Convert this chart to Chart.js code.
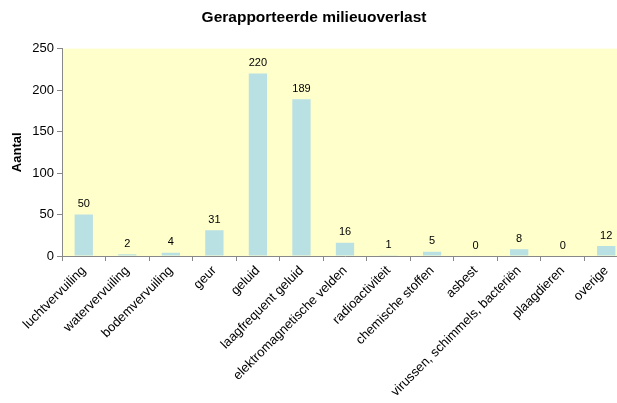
<!DOCTYPE html>
<html>
<head>
<meta charset="utf-8">
<script src="https://cdn.jsdelivr.net/npm/chart.js@4/dist/chart.umd.min.js"></script>
<style>
    html, body { margin: 0; padding: 0; background: #fff; overflow: hidden; }
    #wrap { width: 617px; height: 403px; overflow: hidden; }
</style>
</head>
<body>
<div id="wrap"><canvas id="chart" width="630" height="403" style="width:630px;height:403px"></canvas></div>
<script>
"use strict";

const categories = [
    'luchtvervuiling', 'watervervuiling', 'bodemvervuiling', 'geur', 'geluid',
    'laagfrequent geluid', 'elektromagnetische velden', 'radioactiviteit',
    'chemische stoffen', 'asbest', 'virussen, schimmels, bacteriën',
    'plaagdieren', 'overige'
];
const aantal = [50, 2, 4, 31, 220, 189, 16, 1, 5, 0, 8, 0, 12];
const yTicks = [0, 50, 100, 150, 200, 250];

const FONT = "'Liberation Sans', Arial, sans-serif";

// yellow plot background
const plotBg = {
    id: 'plotBg',
    beforeDraw(chart) {
        const {ctx, chartArea: a} = chart;
        ctx.save();
        ctx.fillStyle = '#FFFFCC';
        ctx.fillRect(a.left, a.top, a.right - a.left, a.bottom - a.top);
        ctx.restore();
    }
};

// value labels above each bar
const valueLabels = {
    id: 'valueLabels',
    afterDatasetsDraw(chart) {
        const ctx = chart.ctx;
        const meta = chart.getDatasetMeta(0);
        ctx.save();
        ctx.font = '11px ' + FONT;
        ctx.fillStyle = '#000';
        ctx.textAlign = 'center';
        ctx.textBaseline = 'bottom';
        meta.data.forEach((bar, i) => {
            ctx.fillText(String(aantal[i]), bar.x, bar.y - 5);
        });
        ctx.restore();
    }
};

new Chart(document.getElementById('chart'), {
    type: 'bar',
    data: {
        labels: categories,
        datasets: [{
            data: aantal,
            backgroundColor: '#B9E0E3',
            borderWidth: 0,
            categoryPercentage: 1,
            barPercentage: 0.42
        }]
    },
    options: {
        responsive: false,
        animation: false,
        layout: {padding: {top: 0, right: 2, left: 0, bottom: 0}},
        plugins: {
            legend: {display: false},
            tooltip: {enabled: false},
            title: {
                display: true,
                text: 'Gerapporteerde milieuoverlast',
                color: '#000',
                font: {family: FONT, size: 15.5, weight: 'bold'},
                padding: {top: 8, bottom: 22}
            }
        },
        scales: {
            x: {
                grid: {
                    display: true,
                    drawOnChartArea: false,
                    drawTicks: true,
                    tickLength: 5,
                    color: '#888',
                    offset: true
                },
                border: {display: true, color: '#888', width: 1},
                ticks: {
                    color: '#000',
                    font: {family: FONT, size: 13},
                    minRotation: 45,
                    maxRotation: 45,
                    autoSkip: false,
                    padding: 2
                },
                afterFit(scale) { scale.height = 147; }
            },
            y: {
                min: 0,
                max: 250,
                afterBuildTicks(scale) { scale.ticks = yTicks.map(v => ({value: v})); },
                grid: {
                    display: true,
                    drawOnChartArea: false,
                    drawTicks: true,
                    tickLength: 5,
                    color: '#888'
                },
                border: {display: true, color: '#888', width: 1},
                ticks: {
                    color: '#000',
                    font: {family: FONT, size: 13},
                    padding: 3
                },
                title: {
                    display: true,
                    text: 'Aantal',
                    color: '#000',
                    font: {family: FONT, size: 13, weight: 'bold'},
                    padding: {top: 10, bottom: 0}
                },
                afterFit(scale) { scale.width = 62; }
            }
        }
    },
    plugins: [plotBg, valueLabels]
});
</script>
</body>
</html>
